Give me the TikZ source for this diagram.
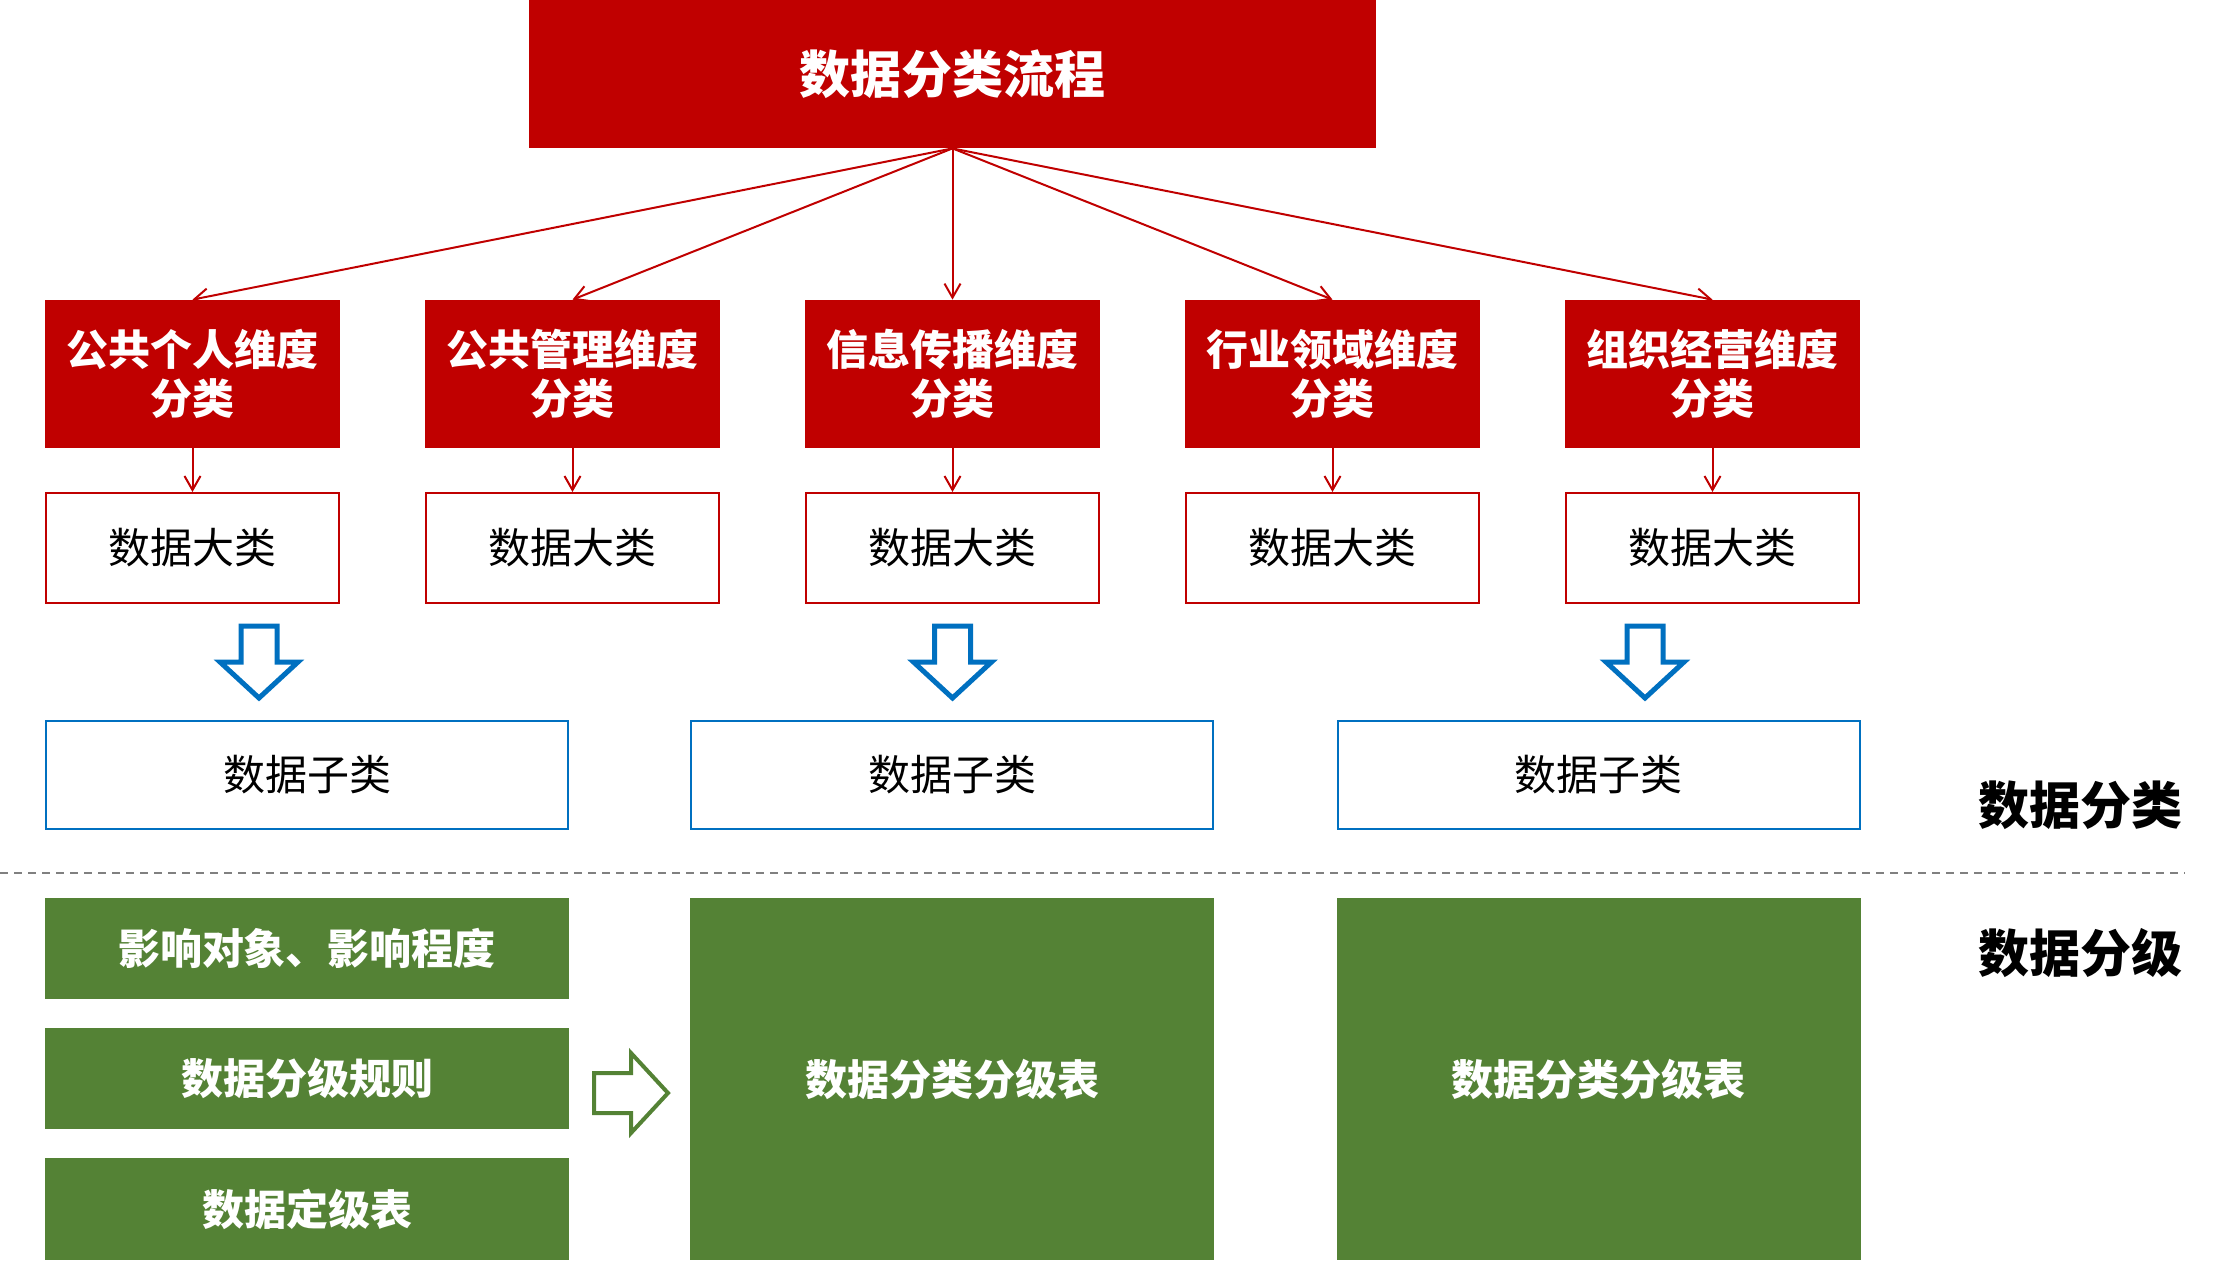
\documentclass[tikz,border=0pt]{standalone}
\usepackage{fontspec}
\newfontfamily\cjk{Noto Sans CJK SC}
\usetikzlibrary{arrows.meta}
\definecolor{hdred}{HTML}{C00000}
\definecolor{lvgreen}{HTML}{548235}
\definecolor{subblue}{HTML}{0070C0}

\begin{document}
\begin{tikzpicture}[x=0.5pt,y=-0.5pt,
  titlebox/.style={fill=hdred,text=white,minimum width=423.5pt,minimum height=74pt,inner sep=0pt,font=\cjk\bfseries\fontsize{25.5}{30}\selectfont},
  dimbox/.style={fill=hdred,text=white,minimum width=147.5pt,minimum height=74pt,inner sep=0pt,align=center,font=\cjk\bfseries\fontsize{21}{24.75}\selectfont},
  bigcat/.style={draw=hdred,line width=1pt,minimum width=146.5pt,minimum height=55pt,inner sep=0pt,font=\cjk\fontsize{21}{25}\selectfont},
  subcat/.style={draw=subblue,line width=1pt,minimum width=261pt,minimum height=54pt,inner sep=0pt,font=\cjk\fontsize{21}{25}\selectfont},
  lvbox/.style={fill=lvgreen,text=white,minimum width=262pt,inner sep=0pt,font=\cjk\bfseries\fontsize{21}{25}\selectfont},
  sidelabel/.style={font=\cjk\bfseries\fontsize{25.5}{30}\selectfont},
  fan/.style={draw=hdred,line width=1pt,-{Straight Barb[length=7pt,width=8pt]}},
  downarrow/.pic={\draw[subblue,line width=2.5pt,line join=miter] (-18,2) -- (18,2) -- (18,38) -- (39,38) -- (0,74) -- (-39,38) -- (-18,38) -- cycle;},
  rightarrow/.pic={\draw[lvgreen,line width=2pt,line join=miter] (0,-20) -- (37,-20) -- (37,-40) -- (74,0) -- (37,40) -- (37,20) -- (0,20) -- cycle;}
]
\useasboundingbox (0,0) rectangle (2218,1260);

% title
\node[titlebox] (title) at (952.5,74) {数据分类流程};

% dimensions
\node[dimbox] (dim1) at (192.5,374) {公共个人维度\\分类};
\node[dimbox] (dim2) at (572.5,374) {公共管理维度\\分类};
\node[dimbox] (dim3) at (952.5,374) {信息传播维度\\分类};
\node[dimbox] (dim4) at (1332.5,374) {行业领域维度\\分类};
\node[dimbox] (dim5) at (1712.5,374) {组织经营维度\\分类};

\node[bigcat] (cat1) at (192.5,548) {数据大类};
\node[bigcat] (cat2) at (572.5,548) {数据大类};
\node[bigcat] (cat3) at (952.5,548) {数据大类};
\node[bigcat] (cat4) at (1332.5,548) {数据大类};
\node[bigcat] (cat5) at (1712.5,548) {数据大类};

\draw[fan] (title.south) -- (dim1.north);
\draw[fan] (title.south) -- (dim2.north);
\draw[fan] (title.south) -- (dim3.north);
\draw[fan] (title.south) -- (dim4.north);
\draw[fan] (title.south) -- (dim5.north);
\draw[fan] (dim1) -- (cat1);
\draw[fan] (dim2) -- (cat2);
\draw[fan] (dim3) -- (cat3);
\draw[fan] (dim4) -- (cat4);
\draw[fan] (dim5) -- (cat5);

% sub categories
\pic at (259,624) {downarrow};
\pic at (952.5,624) {downarrow};
\pic at (1645,624) {downarrow};
\node[subcat] (sub1) at (307,775) {数据子类};
\node[subcat] (sub2) at (952,775) {数据子类};
\node[subcat] (sub3) at (1598.5,775) {数据子类};

% split line
\coordinate (dl) at (0,873);
\coordinate (dr) at (2185,873);
\draw[gray,line width=1pt,dash pattern=on 4pt off 3pt] (dl) -- (dr);
\node[sidelabel] (lbcls) at (2080,805) {数据分类};
\node[sidelabel] (lblvl) at (2080,953) {数据分级};

% levels
\node[lvbox,minimum height=50.5pt] (lv1) at (307,948.5) {影响对象、影响程度};
\node[lvbox,minimum height=50.5pt] (lv2) at (307,1078.5) {数据分级规则};
\node[lvbox,minimum height=51pt] (lv3) at (307,1209) {数据定级表};
\pic at (594,1093) {rightarrow};
\node[lvbox,minimum height=181pt] (tab1) at (952,1079) {数据分类分级表};
\node[lvbox,minimum height=181pt] (tab2) at (1598.5,1079) {数据分类分级表};
\end{tikzpicture}
\end{document}
